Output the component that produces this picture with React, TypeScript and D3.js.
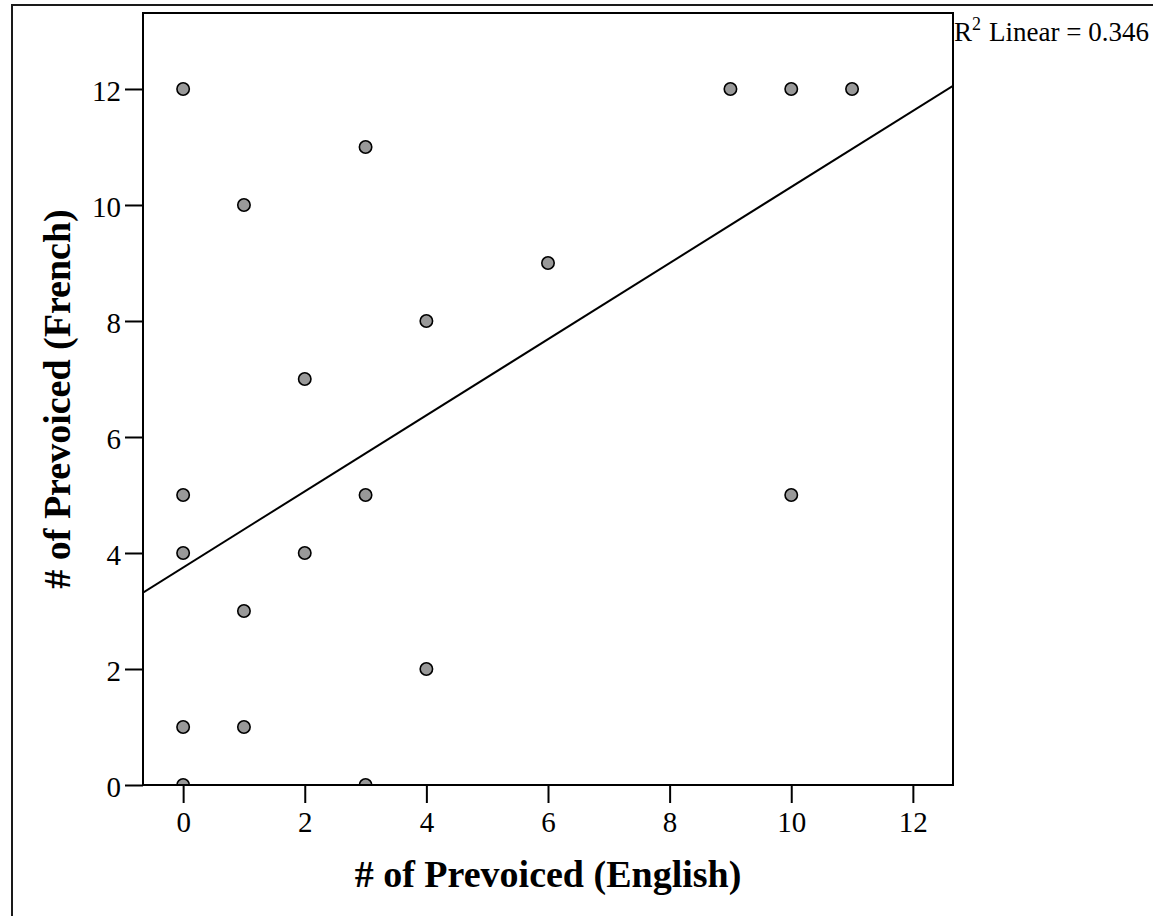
import React, { useEffect, useRef } from "react";
import * as d3 from "d3";

// Data
const englishValues = [0, 3, 1, 6, 4, 2, 0, 3, 10, 0, 2, 1, 4, 0, 1, 0, 3, 9, 10, 11];
const frenchValues = [12, 11, 10, 9, 8, 7, 5, 5, 5, 4, 4, 3, 2, 1, 1, 0, 0, 12, 12, 12];
const xTicks = [0, 2, 4, 6, 8, 10, 12];
const yTicks = [0, 2, 4, 6, 8, 10, 12];
const fitIntercept = 3.75;
const fitSlope = 0.656;
const rSquaredText = "Linear = 0.346";
const xTitle = "# of Prevoiced (English)";
const yTitle = "# of Prevoiced (French)";

const W = 1153;
const H = 916;
const plot = { left: 143, top: 13, right: 953, bottom: 785 };
const FONT = "'Liberation Serif', 'Times New Roman', Times, serif";

export default function App() {
  const ref = useRef<SVGSVGElement>(null);

  useEffect(() => {
    const svg = d3.select(ref.current);
    svg.selectAll("*").remove();

    const x = d3.scaleLinear().domain([-0.66, 12.66]).range([plot.left, plot.right]);
    const y = d3.scaleLinear().domain([0, 13.31]).range([plot.bottom, plot.top]);

    svg.append("rect").attr("width", W).attr("height", H).attr("fill", "#fff");

    // outer frame
    svg
      .append("rect")
      .attr("x", 12)
      .attr("y", 5)
      .attr("width", 1300)
      .attr("height", 1100)
      .attr("fill", "none")
      .attr("stroke", "#1a1a1a")
      .attr("stroke-width", 2);

    const defs = svg.append("defs");
    defs
      .append("clipPath")
      .attr("id", "plotClip")
      .append("rect")
      .attr("x", plot.left)
      .attr("y", plot.top)
      .attr("width", plot.right - plot.left)
      .attr("height", plot.bottom - plot.top);

    // axes
    const xAxis = d3
      .axisBottom(x)
      .tickValues(xTicks)
      .tickSize(18)
      .tickPadding(8)
      .tickFormat(d3.format("d"));
    const gx = svg
      .append("g")
      .attr("transform", `translate(0,${plot.bottom})`)
      .call(xAxis);
    gx.select(".domain").remove();
    gx.selectAll("line").attr("stroke", "#000").attr("stroke-width", 2);
    gx.selectAll("text")
      .attr("font-family", FONT)
      .attr("font-size", 29)
      .attr("fill", "#000");

    const yAxis = d3
      .axisLeft(y)
      .tickValues(yTicks)
      .tickSize(18)
      .tickPadding(4)
      .tickFormat(d3.format("d"));
    const gy = svg
      .append("g")
      .attr("transform", `translate(${plot.left},0)`)
      .call(yAxis);
    gy.select(".domain").remove();
    gy.selectAll("line").attr("stroke", "#000").attr("stroke-width", 2);
    gy.selectAll("text")
      .attr("font-family", FONT)
      .attr("font-size", 29)
      .attr("dy", "0.38em")
      .attr("fill", "#000");

    const inner = svg.append("g").attr("clip-path", "url(#plotClip)");

    // fit line
    const dom = x.domain();
    const line = d3
      .line<number>()
      .x((d) => x(d))
      .y((d) => y(fitIntercept + fitSlope * d));
    inner
      .append("path")
      .attr("d", line(dom))
      .attr("fill", "none")
      .attr("stroke", "#000")
      .attr("stroke-width", 2);

    // points
    inner
      .selectAll("circle")
      .data(d3.range(englishValues.length))
      .join("circle")
      .attr("cx", (i) => x(englishValues[i]))
      .attr("cy", (i) => y(frenchValues[i]))
      .attr("r", 6.2)
      .attr("fill", "#999999")
      .attr("stroke", "#000")
      .attr("stroke-width", 1.6);

    // plot frame
    svg
      .append("rect")
      .attr("x", plot.left)
      .attr("y", plot.top)
      .attr("width", plot.right - plot.left)
      .attr("height", plot.bottom - plot.top)
      .attr("fill", "none")
      .attr("stroke", "#000")
      .attr("stroke-width", 2);

    // titles
    svg
      .append("text")
      .attr("x", (plot.left + plot.right) / 2)
      .attr("y", 887)
      .attr("text-anchor", "middle")
      .attr("font-family", FONT)
      .attr("font-weight", "bold")
      .attr("font-size", 38)
      .attr("fill", "#000")
      .text(xTitle);

    svg
      .append("text")
      .attr("transform", `translate(70,${(plot.top + plot.bottom) / 2}) rotate(-90)`)
      .attr("text-anchor", "middle")
      .attr("font-family", FONT)
      .attr("font-weight", "bold")
      .attr("font-size", 38)
      .attr("fill", "#000")
      .text(yTitle);

    // R² label
    const r2 = svg
      .append("text")
      .attr("x", 954)
      .attr("y", 41)
      .attr("font-family", FONT)
      .attr("font-size", 27)
      .attr("fill", "#000");
    r2.append("tspan").text("R");
    r2.append("tspan").attr("dy", -11).attr("font-size", 18).text("2");
    r2.append("tspan").attr("dy", 11).attr("dx", 8).text(rSquaredText);
  }, []);

  return (
    <svg
      ref={ref}
      width={W}
      height={H}
      style={{ position: "absolute", left: 0, top: 0, display: "block" }}
    />
  );
}
